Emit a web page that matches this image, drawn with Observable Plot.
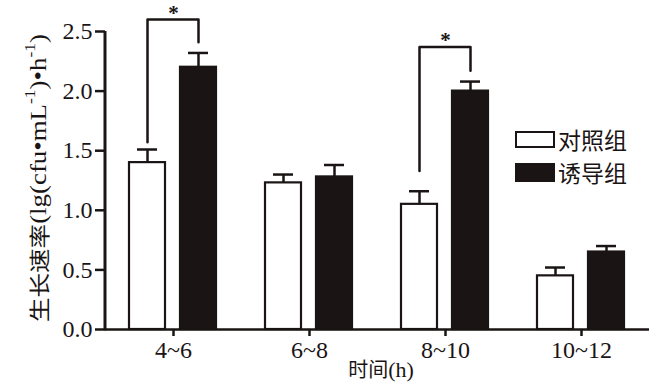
<!DOCTYPE html>
<html><head><meta charset="utf-8">
<script src="https://cdn.jsdelivr.net/npm/d3@7"></script>
<script src="https://cdn.jsdelivr.net/npm/@observablehq/plot@0.6"></script>
<style>
body{margin:0;background:#fff;}
#wrap{position:relative;width:660px;height:385px;background:#fff;}
.leg{position:absolute;left:515px;display:flex;align-items:center;font-family:"Noto Sans CJK SC",sans-serif;font-size:23px;line-height:23px;color:#1a1414;}
.sw{box-sizing:border-box;width:40px;height:17px;border:2.5px solid #1a1414;margin-right:3px;}
</style></head><body><div id="wrap"></div>
<script>
const times = ["4~6", "6~8", "8~10", "10~12"];
const groups = ["对照组", "诱导组"];
const control = [1.40, 1.23, 1.05, 0.45];
const controlErr = [0.11, 0.07, 0.11, 0.07];
const induced = [2.20, 1.28, 2.00, 0.65];
const inducedErr = [0.12, 0.10, 0.08, 0.05];
const yTicks = [0, 0.5, 1.0, 1.5, 2.0, 2.5];
const sigTimes = ["4~6", "8~10"];
const sigLeftBottom = [1.57, 1.33];
const sigTop = [2.60, 2.37];
const sigRightBottom = [2.41, 2.17];
const yLabelCN = "生长速率";
const xLabelCN = "时间";

const bars = times.flatMap((t, i) => [
  {time: t, group: groups[0], value: control[i], err: controlErr[i]},
  {time: t, group: groups[1], value: induced[i], err: inducedErr[i]}
]);
const brackets = sigTimes.flatMap((t, i) => [
  {id: i, time: t, group: groups[0], y: sigLeftBottom[i]},
  {id: i, time: t, group: groups[0], y: sigTop[i]},
  {id: i, time: t, group: groups[1], y: sigTop[i]},
  {id: i, time: t, group: groups[1], y: sigRightBottom[i]}
]);
const stars = sigTimes.map((t, i) => ({time: t, y: sigTop[i]}));

const ink = "#1a1414";
const plot = Plot.plot({
  width: 660, height: 385,
  marginLeft: 105, marginRight: 11, marginTop: 31, marginBottom: 56,
  style: {fontFamily: "'Liberation Serif', serif", fontSize: "24px", color: ink, background: "#fff", overflow: "visible"},
  fx: {domain: times, padding: 0, label: null, axis: null},
  x: {domain: groups, paddingInner: 0.294, paddingOuter: 0.48, axis: null},
  y: {domain: [0, 2.5], axis: null},
  color: {domain: groups, range: ["#ffffff", ink]},
  marks: [
    Plot.barY(bars, {fx: "time", x: "group", y: "value", fill: "group", stroke: ink, strokeWidth: 2.2}),
    Plot.ruleX(bars, {fx: "time", x: "group", y1: "value", y2: d => d.value + d.err, stroke: ink, strokeWidth: 2.5}),
    Plot.tickY(bars, {fx: "time", x: "group", y: d => d.value + d.err, stroke: ink, strokeWidth: 2.5, insetLeft: 8, insetRight: 8}),
    Plot.ruleY([0], {stroke: ink, strokeWidth: 2.6}),
    Plot.line(brackets, {fx: "time", x: "group", y: "y", z: "id", stroke: ink, strokeWidth: 2.5}),
    Plot.text(stars, {fx: "time", y: "y", text: () => "*", fontSize: 21, fontWeight: "bold", lineAnchor: "bottom", fill: ink}),
    Plot.axisY({ticks: yTicks, tickFormat: d3.format(".1f"), tickSize: 10, tickPadding: 3, strokeWidth: 2.5, label: null, fontSize: 24, fill: ink, stroke: ink}),
    Plot.axisFx({anchor: "bottom", tickSize: 7, tickPadding: 4, strokeWidth: 2.5, label: null, fontSize: 24, fill: ink, stroke: ink})
  ]
});

// y axis line using the plot's own scales
const ys = plot.scale("y"), fxs = plot.scale("fx");
const svg = d3.select(plot);
svg.append("line")
  .attr("x1", fxs.range[0]).attr("x2", fxs.range[0])
  .attr("y1", ys.apply(0) + 1.3).attr("y2", ys.apply(2.5))
  .attr("stroke", ink).attr("stroke-width", 3);

// y axis label
const yl = svg.append("text")
  .attr("transform", `translate(38,${(ys.apply(0) + ys.apply(2.5)) / 2 - 2}) rotate(-90)`)
  .attr("text-anchor", "middle").attr("dominant-baseline", "central")
  .attr("textLength", 288).attr("lengthAdjust", "spacingAndGlyphs")
  .attr("fill", ink).style("font-size", "23px")
  .style("font-family", "'Liberation Serif','Noto Sans CJK SC',serif");
yl.append("tspan").style("font-family", "'Noto Sans CJK SC'").style("font-size", "21px").text(yLabelCN);
yl.append("tspan").text("(lg(cfu•mL");
yl.append("tspan").attr("dy", -8).style("font-size", "15px").text("-1");
yl.append("tspan").attr("dy", 8).text(")•h");
yl.append("tspan").attr("dy", -8).style("font-size", "15px").text("-1");
yl.append("tspan").attr("dy", 8).text(")");

// x axis label
const xl = svg.append("text")
  .attr("x", (fxs.range[0] + fxs.range[1]) / 2 + 4).attr("y", 377)
  .attr("text-anchor", "middle")
  .attr("fill", ink).style("font-size", "22px");
xl.append("tspan").style("font-family", "'Noto Sans CJK SC'").style("font-size", "20px").text(xLabelCN);
xl.append("tspan").text("(h)");

const wrap = document.getElementById("wrap");
wrap.appendChild(plot);
// legend
groups.forEach((g, i) => {
  const row = document.createElement("div");
  row.className = "leg";
  row.style.top = (i === 0 ? 128 : 161) + "px";
  const sw = document.createElement("div");
  sw.className = "sw";
  sw.style.background = i === 0 ? "#fff" : ink;
  if (i === 1) sw.style.height = "19px";
  const tx = document.createElement("span");
  tx.textContent = g;
  row.appendChild(sw); row.appendChild(tx);
  wrap.appendChild(row);
});
</script></body></html>
